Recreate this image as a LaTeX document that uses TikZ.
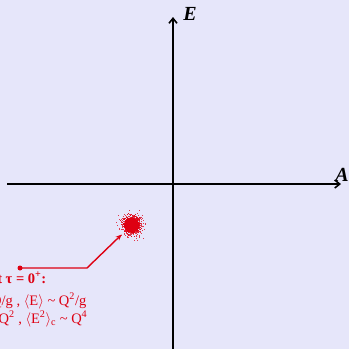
\documentclass[tikz,border=0pt]{standalone}
\usepackage{fontspec}
\setmainfont{Liberation Serif}
\usetikzlibrary{arrows.meta,calc}
\definecolor{bg}{RGB}{230,230,250}
\definecolor{rd}{RGB}{222,0,18}
\newcommand{\lang}{$\langle$}
\newcommand{\rang}{$\rangle$}
\newcommand{\tl}{\textasciitilde}
\tikzset{
  axis/.style={line width=2.2pt,-{Straight Barb[length=5pt,width=8pt,line width=1.6pt]}},
  axlabel/.style={font=\fontsize{20}{20}\selectfont\bfseries\itshape,inner sep=0pt},
  note/.style={text=rd,font=\fontsize{14.5}{16}\selectfont,inner sep=0pt,anchor=base east},
  pointer/.style={rd,line width=1.4pt,-{Stealth[length=6pt,width=5pt]}},
}
\begin{document}
\begin{tikzpicture}[x=1pt,y=-1pt]
\fill[bg] (0,0) rectangle (349,349);
\useasboundingbox (0,0) rectangle (349,349);
\clip (0,0) rectangle (349,349);
% axes
\coordinate (xs) at (7,184);
\coordinate (xe) at (341,184);
\coordinate (ys) at (173,352);
\coordinate (ye) at (173,17);
\draw[axis] (xs) -- (xe);
\draw[axis] (ys) -- (ye);
\node[axlabel] (El) at (190,14) {E};
\node[axlabel] (Al) at (342,175) {A};
% blob
\node[circle,minimum size=27pt,inner sep=0pt] (blob) at (131.5,225) {};
\fill[rd] (blob.center) circle (7.5);
\pgfmathsetseed{7}
\foreach \i in {1,...,850}{
  \pgfmathsetmacro{\u}{0.002+0.996*rnd}
  \pgfmathsetmacro{\r}{4.9*sqrt(-2*ln(\u))}
  \pgfmathsetmacro{\a}{360*rnd}
  \fill[rd,opacity=0.75] ($(blob.center)+(\a:\r)$) rectangle +(1,1);
}
% pointer
\node[circle,fill=rd,inner sep=0pt,minimum size=5pt] (dot) at (20,268) {};
\coordinate (bend) at (87,268);
\draw[pointer] (dot.center) -- (bend) -- (blob);
% text
\node[note,font=\fontsize{14.5}{16}\selectfont\bfseries] (l1) at (46.5,283) {At τ = 0\textsuperscript{+}:};
\node[note] (l2) at (86.5,305) {\lang A\rang\ \tl\ Q/g , \lang E\rang\ \tl\ Q\textsuperscript{2}/g};
\node[note] (l3) at (87.5,323) {\lang A\textsuperscript{2}\rang\textsubscript{c} \tl\ Q\textsuperscript{2} , \lang E\textsuperscript{2}\rang\textsubscript{c} \tl\ Q\textsuperscript{4}};
\end{tikzpicture}
\end{document}
